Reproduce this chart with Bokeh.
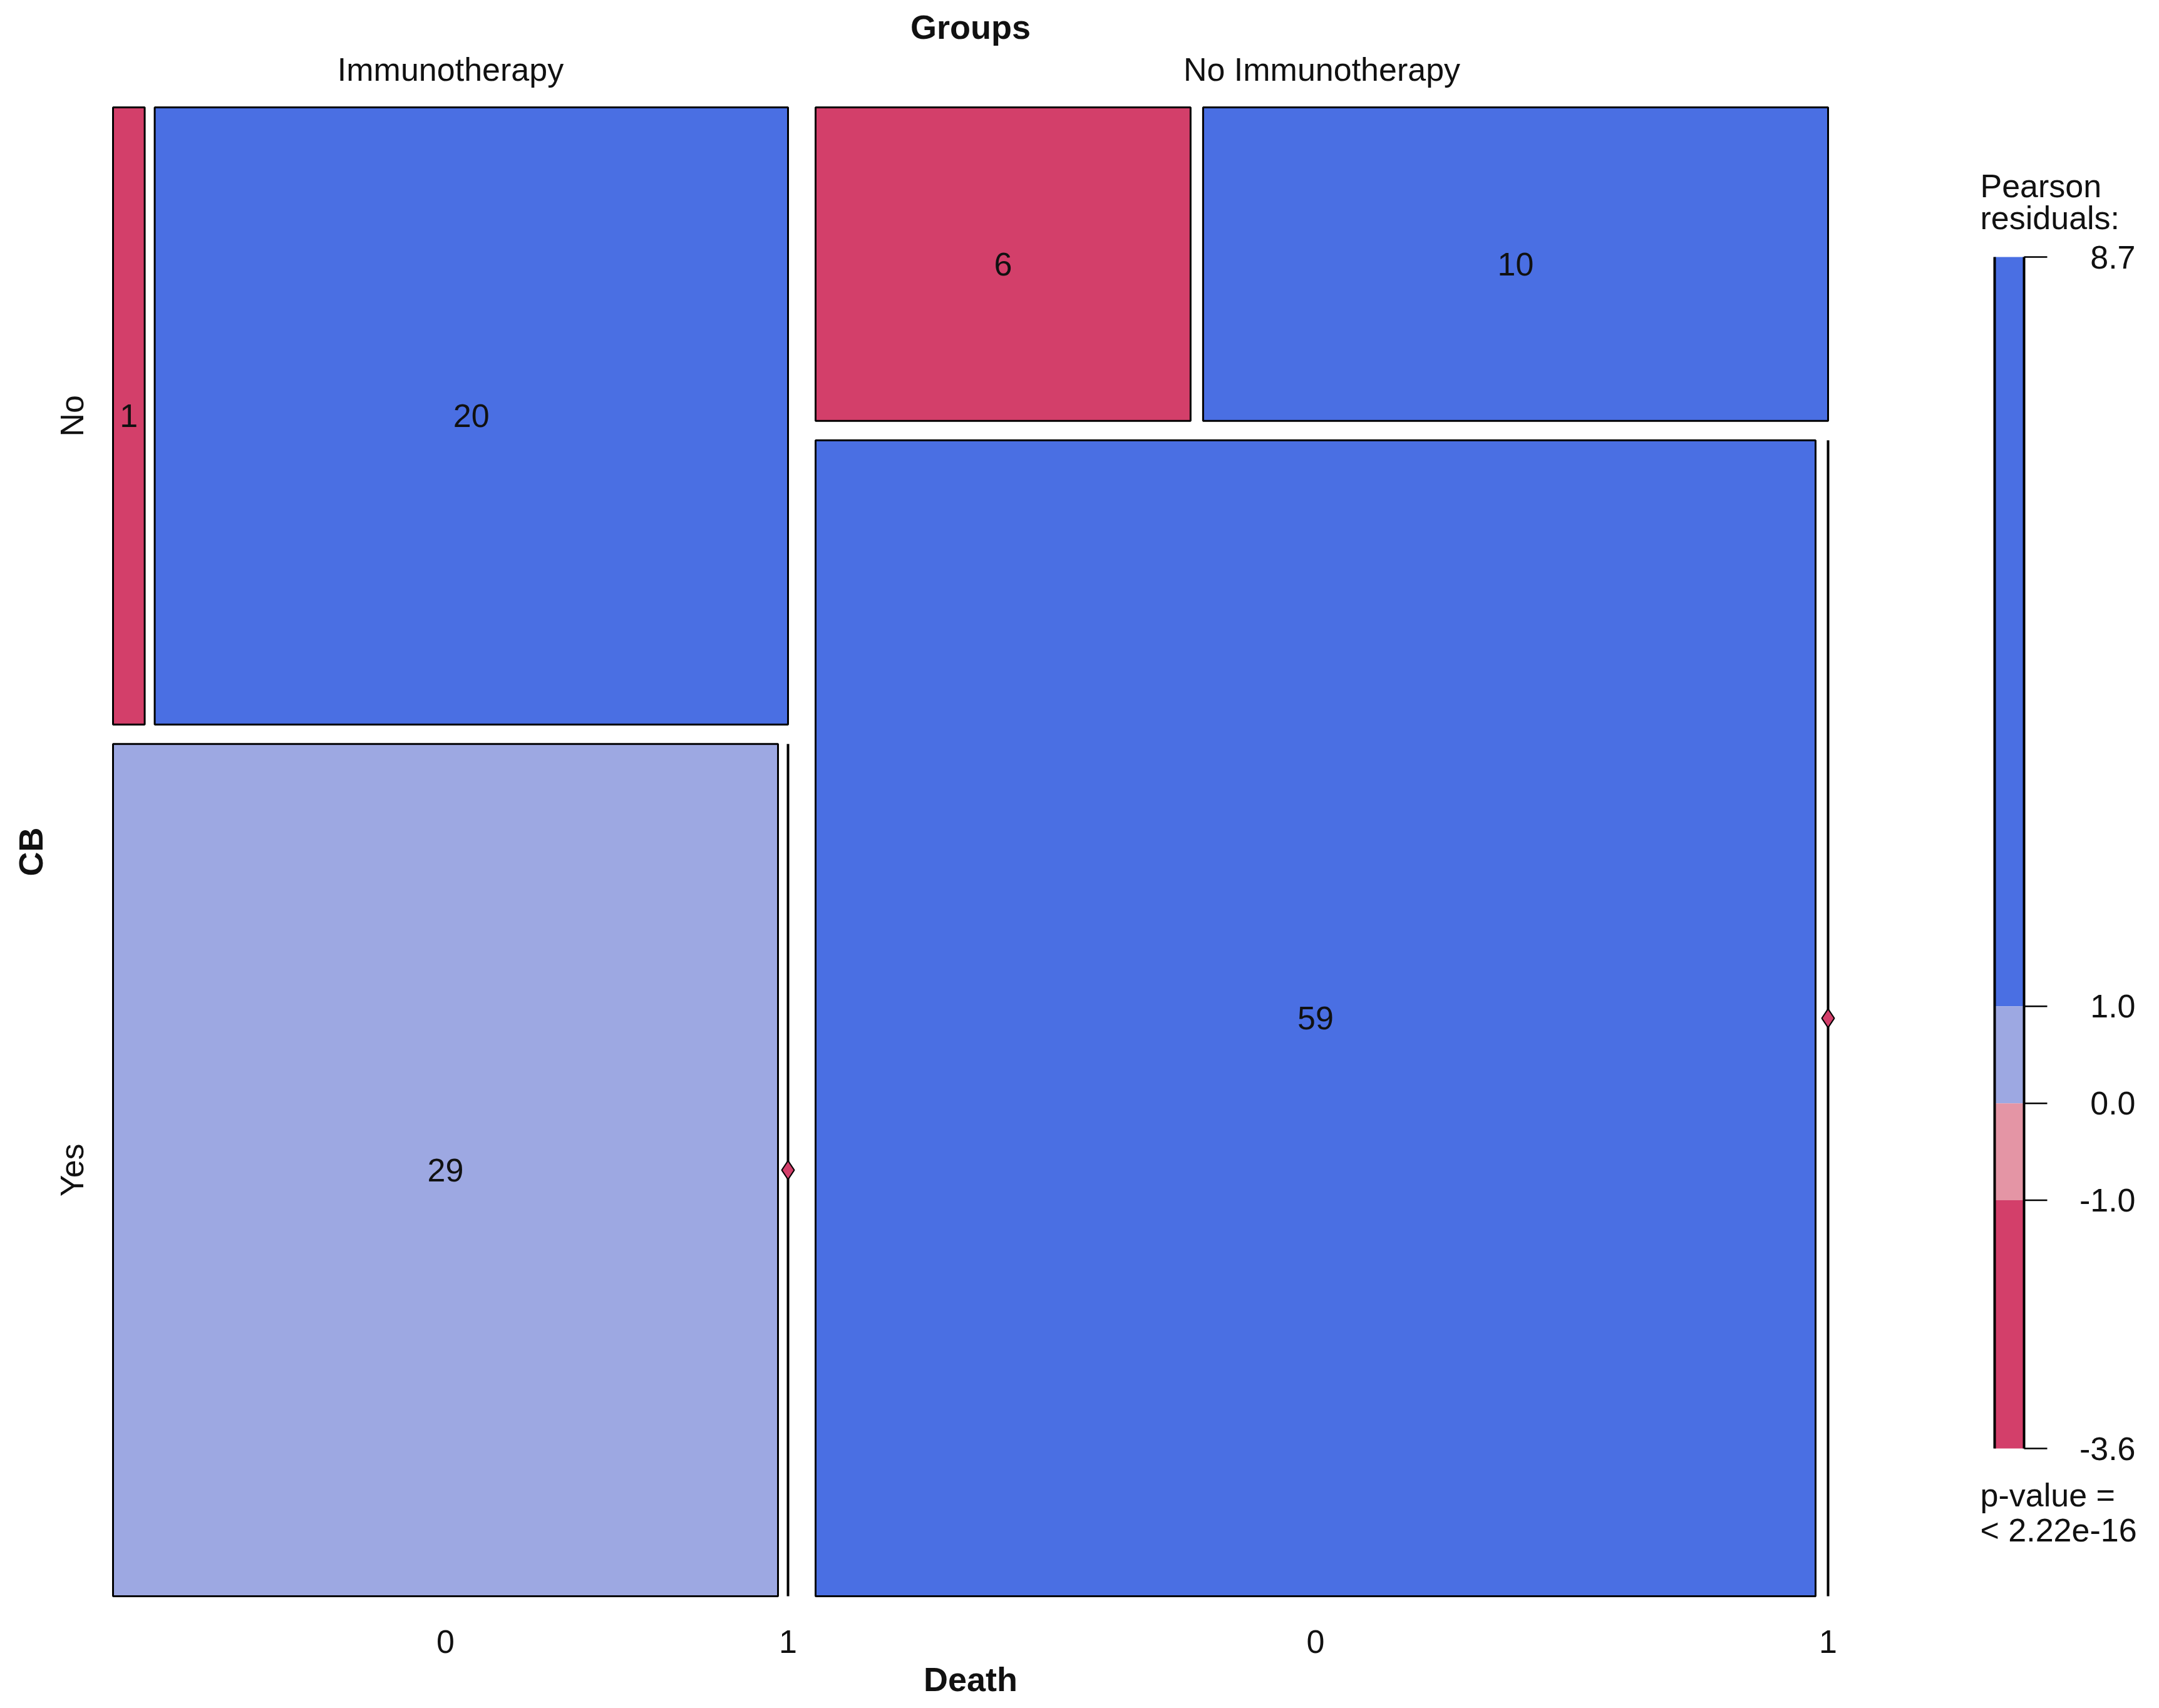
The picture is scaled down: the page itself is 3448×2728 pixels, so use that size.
import numpy as np
from bokeh.plotting import figure
from bokeh.models import Range1d, ColumnDataSource
from bokeh.core.properties import value
from bokeh.embed import file_html
from bokeh.resources import INLINE

# ---------------- data ----------------
groups = ["Immunotherapy", "No Immunotherapy"]
cb_levels = ["No", "Yes"]
death_levels = ["0", "1"]
counts_imm_no = [1, 20]
counts_imm_yes = [29, 0]
counts_noimm_no = [6, 10]
counts_noimm_yes = [59, 0]
p_value_text = "< 2.22e-16"
shade_breaks = [1.0, 0.0, -1.0]
shade_colors = ["#4A6FE3", "#9DA8E2", "#E495A5", "#D33F6A"]  # >1, 0..1, -1..0, <-1

table = np.array([[counts_imm_no, counts_imm_yes],
                  [counts_noimm_no, counts_noimm_yes]], dtype=float)  # [group, cb, death]

# Pearson residuals under mutual independence
N = table.sum()
pg = table.sum(axis=(1, 2)) / N
pc = table.sum(axis=(0, 2)) / N
pd_ = table.sum(axis=(0, 1)) / N
expected = N * pg[:, None, None] * pc[None, :, None] * pd_[None, None, :]
resid = (table - expected) / np.sqrt(expected)
rmax, rmin = resid.max(), resid.min()


def shade(r):
    if r > 1:
        return shade_colors[0]
    if r > 0:
        return shade_colors[1]
    if r >= -1:
        return shade_colors[2]
    return shade_colors[3]


# ---------------- layout (screen px) ----------------
W, H = 3432, 2712
LEFT, RIGHT, TOP, BOTTOM = 180, 2919, 171, 2549
GROUP_GAP, ROW_GAP = 44, 31
CELL_GAP = [16, 20]
FONT = "Liberation Sans"
FS = "52px"

p = figure(width=W, height=H, x_range=Range1d(0, W), y_range=Range1d(H, 0),
           output_backend="svg", toolbar_location=None, min_border=0,
           outline_line_color=None, background_fill_color="white")
p.axis.visible = False
p.grid.visible = False

quads = dict(left=[], right=[], top=[], bottom=[], color=[])
labels = dict(x=[], y=[], text=[])
zero_lines = dict(xs=[], ys=[])
zero_pts = dict(x=[], y=[], color=[])

gtot = table.sum(axis=(1, 2))
avail_w = (RIGHT - LEFT) - GROUP_GAP * (len(groups) - 1)
x0 = LEFT
group_spans = []
row_spans_first = []
bottom_label_pos = []
for gi in range(len(groups)):
    gw = gtot[gi] / N * avail_w
    group_spans.append((x0, x0 + gw))
    ctot = table[gi].sum(axis=1)
    avail_h = (BOTTOM - TOP) - ROW_GAP * (len(cb_levels) - 1)
    y0 = TOP
    for ci in range(len(cb_levels)):
        rh = ctot[ci] / gtot[gi] * avail_h
        if gi == 0:
            row_spans_first.append((y0, y0 + rh))
        rowsum = table[gi, ci].sum()
        avail_c = gw - CELL_GAP[gi] * (len(death_levels) - 1)
        cx = x0
        for di in range(len(death_levels)):
            cnt = table[gi, ci, di]
            cw = cnt / rowsum * avail_c
            col = shade(resid[gi, ci, di])
            if cnt > 0:
                quads["left"].append(cx)
                quads["right"].append(cx + cw)
                quads["top"].append(y0)
                quads["bottom"].append(y0 + rh)
                quads["color"].append(col)
                labels["x"].append(cx + cw / 2)
                labels["y"].append(y0 + rh / 2)
                labels["text"].append(str(int(cnt)))
            else:
                zero_lines["xs"].append([cx, cx])
                zero_lines["ys"].append([y0, y0 + rh])
                zero_pts["x"].append(cx)
                zero_pts["y"].append(y0 + rh / 2)
                zero_pts["color"].append(col)
            if ci == len(cb_levels) - 1:
                bottom_label_pos.append((cx + cw / 2, death_levels[di]))
            cx += cw + CELL_GAP[gi]
        y0 += rh + ROW_GAP
    x0 += gw + GROUP_GAP

p.quad(left="left", right="right", top="top", bottom="bottom", fill_color="color",
       line_color="black", line_width=3, source=ColumnDataSource(quads))
p.multi_line(xs="xs", ys="ys", line_color="black", line_width=4,
             source=ColumnDataSource(zero_lines))
p.scatter(x="x", y="y", marker="diamond", size=30, fill_color="color", line_color="black",
          line_width=2, source=ColumnDataSource(zero_pts))
p.text(x="x", y="y", text="text", text_align="center", text_baseline="middle",
       text_font=value(FONT), text_font_size=FS, text_color="#111111",
       source=ColumnDataSource(labels))

# variable & level labels
mid_x = (LEFT + RIGHT) / 2
mid_y = (TOP + BOTTOM) / 2
p.text(x=[mid_x], y=[42], text=["Groups"], text_align="center", text_baseline="middle",
       text_font=value(FONT), text_font_size="54px", text_font_style="bold", text_color="#111111")
p.text(x=[(a + b) / 2 for a, b in group_spans], y=[110] * len(groups), text=groups,
       text_align="center", text_baseline="middle", text_font=value(FONT),
       text_font_size=FS, text_color="#111111")
p.text(x=[48], y=[mid_y], text=["CB"], angle=np.pi / 2, text_align="center",
       text_baseline="middle", text_font=value(FONT), text_font_size="54px",
       text_font_style="bold", text_color="#111111")
p.text(x=[114] * len(cb_levels), y=[(a + b) / 2 for a, b in row_spans_first], text=cb_levels,
       angle=np.pi / 2, text_align="center", text_baseline="middle", text_font=value(FONT),
       text_font_size=FS, text_color="#111111")
p.text(x=[b[0] for b in bottom_label_pos], y=[2621] * len(bottom_label_pos),
       text=[b[1] for b in bottom_label_pos], text_align="center", text_baseline="middle",
       text_font=value(FONT), text_font_size=FS, text_color="#111111")
p.text(x=[mid_x], y=[2681], text=["Death"], text_align="center", text_baseline="middle",
       text_font=value(FONT), text_font_size="54px", text_font_style="bold", text_color="#111111")

# ---------------- legend ----------------
LB_L, LB_R, LB_T, LB_B = 3185, 3232, 410, 2313


def ly(v):
    return LB_T + (rmax - v) / (rmax - rmin) * (LB_B - LB_T)


bounds = [rmax] + shade_breaks + [rmin]
leg = dict(left=[], right=[], top=[], bottom=[], color=[])
for i in range(len(bounds) - 1):
    leg["left"].append(LB_L)
    leg["right"].append(LB_R)
    leg["top"].append(ly(bounds[i]))
    leg["bottom"].append(ly(bounds[i + 1]))
    leg["color"].append(shade_colors[i])
p.quad(left="left", right="right", top="top", bottom="bottom", fill_color="color",
       line_color=None, source=ColumnDataSource(leg))
p.multi_line(xs=[[LB_L, LB_L], [LB_R, LB_R]], ys=[[ly(rmax), ly(rmin)]] * 2,
             line_color="black", line_width=4)
p.multi_line(xs=[[LB_R, 3269]] * len(bounds), ys=[[ly(v), ly(v)] for v in bounds],
             line_color="black", line_width=2.5)
p.text(x=[3410] * len(bounds), y=[ly(v) for v in bounds], text=["%.1f" % v for v in bounds],
       text_align="right", text_baseline="middle", text_font=value(FONT), text_font_size=FS,
       text_color="#111111")
p.text(x=[3162, 3162], y=[296, 347], text=["Pearson", "residuals:"], text_align="left",
       text_baseline="middle", text_font=value(FONT), text_font_size=FS, text_color="#111111")
p.text(x=[3162, 3162], y=[2387, 2443], text=["p-value =", p_value_text], text_align="left",
       text_baseline="middle", text_font=value(FONT), text_font_size=FS, text_color="#111111")

open("out.html", "w").write(file_html(p, INLINE))
